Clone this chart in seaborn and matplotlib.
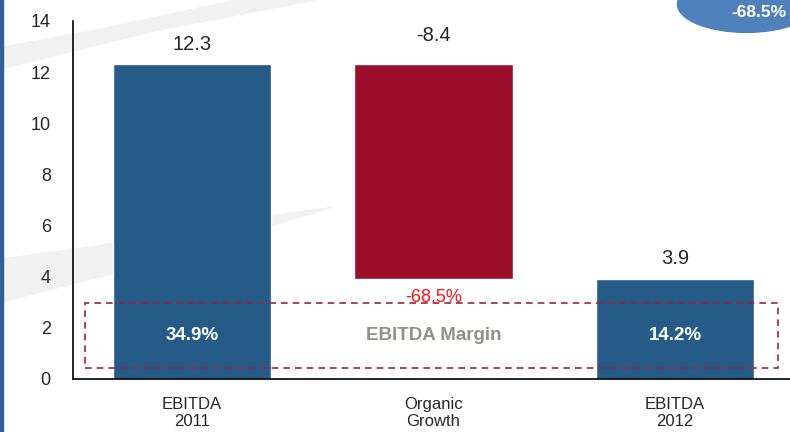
import seaborn as sns
import pandas as pd
import matplotlib.pyplot as plt
from matplotlib.patches import Rectangle, Ellipse, Polygon

# chart data
categories = ['EBITDA\n2011', 'Organic\nGrowth', 'EBITDA\n2012']
changes = [12.3, -8.4, 3.9]          # first and last are totals, middle is a step
is_total = [True, False, True]
margins = ['34.9%', '', '14.2%']
growth_pct = '-68.5%'
bar_colors = ['#265B87', '#9C0E2C', '#265B87']

# waterfall bottoms / heights
bottoms, heights = [], []
running = 0
for v, tot in zip(changes, is_total):
    if tot:
        bottoms.append(0)
        heights.append(v)
        running = v
    else:
        new = running + v
        bottoms.append(min(running, new))
        heights.append(abs(v))
        running = new

df = pd.DataFrame({'cat': categories, 'height': heights})

sns.set_style('white')
plt.rcParams['font.family'] = ['Liberation Sans', 'DejaVu Sans']

fig = plt.figure(figsize=(7.9, 4.32), dpi=100)

# faint background swooshes and left border (behind the axes)
fig.patches.append(Polygon([(0, 0.84), (0.20, 0.93), (0.40, 1.0), (0.30, 1.0), (0.12, 0.93), (0, 0.89)],
                           closed=True, transform=fig.transFigure, color='#f1f1f1', zorder=0))
fig.patches.append(Polygon([(0, 0.30), (0.15, 0.37), (0.42, 0.52), (0.30, 0.49), (0.12, 0.43), (0, 0.40)],
                           closed=True, transform=fig.transFigure, color='#f1f1f1', zorder=0))
fig.patches.append(Rectangle((0, 0), 0.004, 1, transform=fig.transFigure,
                             color='#2C6193', zorder=0))

ax = fig.add_axes([0.0924, 0.1227, 0.9076, 0.8287])
ax.set_zorder(1)
ax.patch.set_alpha(0)

sns.barplot(data=df, x='cat', y='height', hue='cat', palette=bar_colors,
            saturation=1, width=0.655, legend=False, ax=ax, zorder=2)
for p, b, h in zip(ax.patches, bottoms, heights):
    p.set_y(b)
    p.set_height(h)

ax.set_ylim(0, 14)
ax.set_xlim(-0.493, 2.476)
ax.set_yticks(range(0, 15, 2))
ax.set_xlabel('')
ax.set_ylabel('')
ax.tick_params(axis='y', length=0, pad=16, labelsize=13)
ax.tick_params(axis='x', length=0, pad=13, labelsize=12)
sns.despine(ax=ax, top=True, right=True)
for s in ['left', 'bottom']:
    ax.spines[s].set_color('black')
    ax.spines[s].set_linewidth(1.2)
    ax.spines[s].set_zorder(3)

# value labels
for i, (v, b, h) in enumerate(zip(changes, bottoms, heights)):
    extra = 0.35 if not is_total[i] else 0
    ax.text(i, b + h + 0.8 + extra, f'{v:.1f}', ha='center', va='center', fontsize=14.5)

# margin box
ax.add_patch(Rectangle((-0.443, 0.43), 2.87, 2.54, fill=False, ls=(0, (4, 3)),
                       ec='#A3213F', lw=1.2, zorder=4))
for i, m in enumerate(margins):
    if m:
        ax.text(i, 1.7, m, ha='center', va='center', color='white',
                fontsize=13.5, fontweight='bold', zorder=5)
ax.text(1, 1.7, 'EBITDA Margin', ha='center', va='center', color='#978E86',
        fontsize=13.5, fontweight='bold', zorder=5)
ax.text(1, 3.2, growth_pct, ha='center', va='center', color='#FF1010',
        fontsize=13, zorder=5)

# badge in top-right corner
fig.patches.append(Ellipse((0.945, 0.99), 0.175, 0.13, transform=fig.transFigure,
                           color='#4F81BD', zorder=5))
fig.text(0.995, 0.972, growth_pct, ha='right', va='center', color='white',
         fontsize=12.5, fontweight='bold', zorder=6)

plt.savefig('out.png', dpi=100)
